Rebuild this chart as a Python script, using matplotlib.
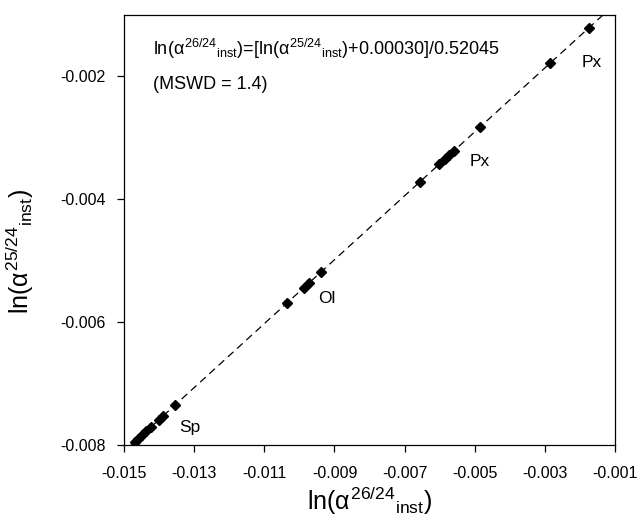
import numpy as np
import matplotlib
matplotlib.use("Agg")
import matplotlib.pyplot as plt

plt.rcParams['font.family'] = ['Liberation Sans', 'DejaVu Sans']
plt.rcParams['mathtext.fontset'] = 'custom'
plt.rcParams['mathtext.rm'] = 'Liberation Sans'
plt.rcParams['mathtext.it'] = 'Liberation Sans'

# ln(alpha 26/24 inst) and ln(alpha 25/24 inst) per spot
ln26 = [-0.00175, -0.00285, -0.00485, -0.00560, -0.00572, -0.00585, -0.00601,
        -0.00657, -0.00938, -0.00973, -0.00988, -0.01035, -0.01354, -0.01389,
        -0.01401, -0.01423, -0.01436, -0.01448, -0.01461, -0.01470]
ln25 = [-0.00121, -0.00178, -0.00282, -0.00321, -0.00328, -0.00334, -0.00343,
        -0.00372, -0.00518, -0.00536, -0.00544, -0.00569, -0.00735, -0.00753,
        -0.00759, -0.00771, -0.00777, -0.00784, -0.00790, -0.00795]

slope = 0.52045
offset = 0.00030

phase_labels = ["Px", "Px", "Ol", "Sp"]
label_x = [-0.00485, -0.00166, -0.00921, -0.01312]
label_y = [-0.00339, -0.00177, -0.00561, -0.00772]

fig = plt.figure(figsize=(6.37, 5.29), dpi=100)
ax = fig.add_axes([0.1947, 0.1588, 0.7708, 0.8128])

# regression line
xl = np.array([-0.0152, -0.0008])
ax.plot(xl, slope * xl - offset, color='black', lw=0.9, ls=(0, (6, 4)), zorder=1)
ax.plot(ln26, ln25, 'D', color='black', ms=5.5, zorder=2)

for lab, lx, ly in zip(phase_labels, label_x, label_y):
    ax.text(lx, ly, lab, fontsize=12.5, ha='center', va='center')

ax.text(-0.01417, -0.00155,
        r'ln($\alpha^{26/24}{}_{\mathrm{inst}}$)=[ln($\alpha^{25/24}{}_{\mathrm{inst}}$)+0.00030]/0.52045',
        fontsize=13, ha='left', va='center')
ax.text(-0.01417, -0.00213, '(MSWD = 1.4)', fontsize=13, ha='left', va='center')

ax.set_xlim(-0.015, -0.001)
ax.set_ylim(-0.008, -0.001)
ax.set_xticks(np.arange(-0.015, -0.0009, 0.002))
ax.set_xticklabels(['-0.015', '-0.013', '-0.011', '-0.009', '-0.007', '-0.005', '-0.003', '-0.001'])
ax.set_yticks([-0.008, -0.006, -0.004, -0.002])
ax.set_yticklabels(['-0.008', '-0.006', '-0.004', '-0.002'])
ax.tick_params(direction='out', length=5, width=0.9, labelsize=11.5)
ax.tick_params(axis='x', pad=10)
ax.tick_params(axis='y', pad=8)
for s in ax.spines.values():
    s.set_linewidth(0.9)

ax.set_xlabel(r'ln($\alpha^{26/24}{}_{\mathrm{inst}}$)', fontsize=18, labelpad=3)
ax.set_ylabel(r'ln($\alpha^{25/24}{}_{\mathrm{inst}}$)', fontsize=18)
ax.yaxis.set_label_coords(-0.18, 0.45)

fig.savefig('out.png', dpi=100)
